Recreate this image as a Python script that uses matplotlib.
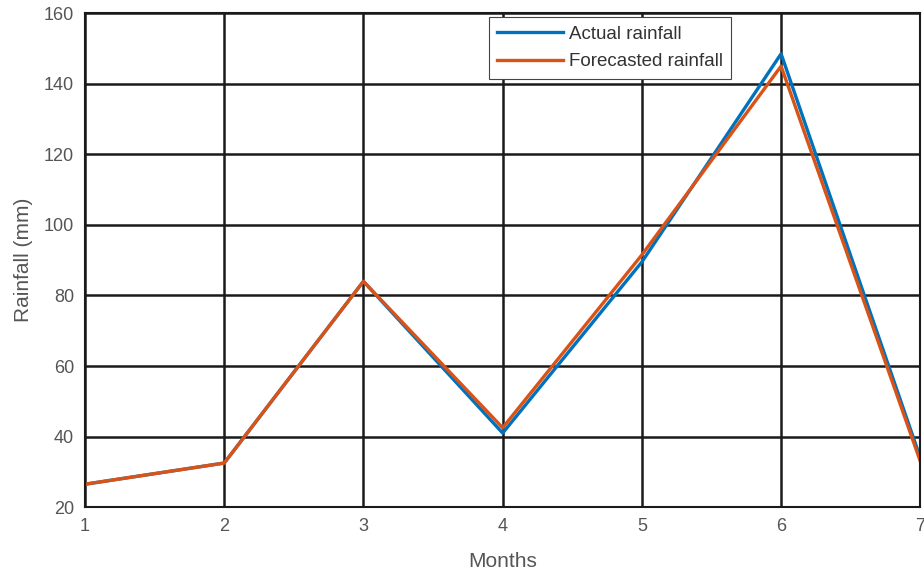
import matplotlib
matplotlib.use("Agg")
import matplotlib.pyplot as plt

months = [1, 2, 3, 4, 5, 6, 7]
actual_rainfall = [26.5, 32.5, 84, 41, 89.5, 148.5, 34]
forecast_rainfall = [26.5, 32.5, 84, 42.5, 91.5, 145, 33]

plt.rcParams['font.family'] = ['Liberation Sans', 'DejaVu Sans']

fig = plt.figure(figsize=(9.24, 5.75), dpi=100)
ax = fig.add_axes([0.092, 0.118, 0.904, 0.859])

ax.plot(months, actual_rainfall, color='#0072BD', lw=2.4, label='Actual rainfall')
ax.plot(months, forecast_rainfall, color='#D95319', lw=2.4, label='Forecasted rainfall')

ax.set_xlim(1, 7)
ax.set_ylim(20, 160)
ax.set_xticks(months)
ax.set_yticks(range(20, 161, 20))
ax.grid(True, color='#1a1a1a', lw=1.8)
ax.set_axisbelow(True)
for s in ax.spines.values():
    s.set_color('#1a1a1a')
    s.set_linewidth(1.5)
ax.tick_params(colors='#555555', labelsize=13, length=0, pad=8)
ax.set_xlabel('Months', fontsize=15, color='#555555', labelpad=12)
ax.set_ylabel('Rainfall (mm)', fontsize=15, color='#555555', labelpad=8)

leg = ax.legend(loc='upper left', bbox_to_anchor=(0.4835, 0.992), fontsize=13.5,
                fancybox=False, framealpha=1, edgecolor='#444444',
                handlelength=3.5, handletextpad=0.3, borderpad=0.45,
                labelspacing=0.55, borderaxespad=0)
leg.get_frame().set_linewidth(0.8)
for t in leg.get_texts():
    t.set_color('#333333')

fig.savefig('out.png', dpi=100)
